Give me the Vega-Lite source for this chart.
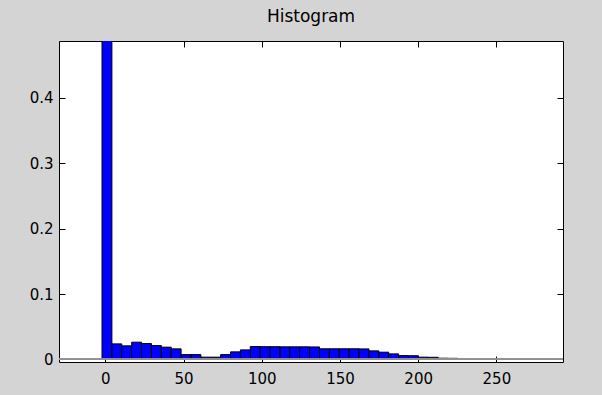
{
  "$schema": "https://vega.github.io/schema/vega-lite/v6.json",
  "width": 504,
  "height": 321,
  "autosize": {"type": "none"},
  "padding": {"left": 59, "top": 41, "right": 39, "bottom": 33},
  "background": "#d4d4d4",
  "title": {
    "text": "Histogram",
    "font": "DejaVu Sans",
    "fontSize": 17,
    "fontWeight": "normal",
    "color": "#000000",
    "anchor": "middle",
    "baseline": "bottom",
    "offset": 18,
    "dy": 48
  },
  "config": {
    "view": {"stroke": "#000000", "strokeWidth": 1, "fill": "#ffffff"},
    "axis": {
      "grid": false,
      "domain": false,
      "labelFont": "DejaVu Sans",
      "labelFontSize": 15,
      "labelColor": "#000000",
      "tickColor": "#000000",
      "tickWidth": 1,
      "tickSize": -6,
      "title": null
    }
  },
  "data": {
    "values": [
      {"x0": -2.10, "x1": 4.22, "p": 0.53},
      {"x0": 4.22, "x1": 10.54, "p": 0.0237},
      {"x0": 10.54, "x1": 16.86, "p": 0.0207},
      {"x0": 16.86, "x1": 23.18, "p": 0.0263},
      {"x0": 23.18, "x1": 29.50, "p": 0.0242},
      {"x0": 29.50, "x1": 35.82, "p": 0.0211},
      {"x0": 35.82, "x1": 42.14, "p": 0.0187},
      {"x0": 42.14, "x1": 48.46, "p": 0.0161},
      {"x0": 48.46, "x1": 54.78, "p": 0.0073},
      {"x0": 54.78, "x1": 61.10, "p": 0.0073},
      {"x0": 61.10, "x1": 67.42, "p": 0.0034},
      {"x0": 67.42, "x1": 73.74, "p": 0.0034},
      {"x0": 73.74, "x1": 80.06, "p": 0.0073},
      {"x0": 80.06, "x1": 86.38, "p": 0.0115},
      {"x0": 86.38, "x1": 92.70, "p": 0.0145},
      {"x0": 92.70, "x1": 99.02, "p": 0.0196},
      {"x0": 99.02, "x1": 105.34, "p": 0.0194},
      {"x0": 105.34, "x1": 111.66, "p": 0.0194},
      {"x0": 111.66, "x1": 117.98, "p": 0.0192},
      {"x0": 117.98, "x1": 124.30, "p": 0.0192},
      {"x0": 124.30, "x1": 130.62, "p": 0.0192},
      {"x0": 130.62, "x1": 136.94, "p": 0.0190},
      {"x0": 136.94, "x1": 143.26, "p": 0.0162},
      {"x0": 143.26, "x1": 149.58, "p": 0.0162},
      {"x0": 149.58, "x1": 155.90, "p": 0.0162},
      {"x0": 155.90, "x1": 162.22, "p": 0.0162},
      {"x0": 162.22, "x1": 168.54, "p": 0.0160},
      {"x0": 168.54, "x1": 174.86, "p": 0.0130},
      {"x0": 174.86, "x1": 181.18, "p": 0.0110},
      {"x0": 181.18, "x1": 187.50, "p": 0.0084},
      {"x0": 187.50, "x1": 193.82, "p": 0.0058},
      {"x0": 193.82, "x1": 200.14, "p": 0.0056},
      {"x0": 200.14, "x1": 206.46, "p": 0.0034},
      {"x0": 206.46, "x1": 212.78, "p": 0.0032},
      {"x0": 212.78, "x1": 219.10, "p": 0.0018},
      {"x0": 219.10, "x1": 225.42, "p": 0.0016}
    ]
  },
  "resolve": {"axis": {"x": "independent", "y": "independent"}},
  "layer": [
    {
      "mark": {"type": "bar", "fill": "#0000ff", "stroke": "#000000", "strokeWidth": 1, "clip": true},
      "encoding": {
        "x": {
          "field": "x0",
          "type": "quantitative",
          "scale": {"domain": [-29.6, 292.6], "nice": false, "zero": false},
          "axis": {"orient": "bottom", "values": [0, 50, 100, 150, 200, 250], "labelPadding": 15}
        },
        "x2": {"field": "x1"},
        "y": {
          "field": "p",
          "type": "quantitative",
          "scale": {"domain": [-0.004, 0.487], "nice": false, "zero": false},
          "axis": {"orient": "left", "values": [0, 0.1, 0.2, 0.3, 0.4], "format": ".1~f", "labelPadding": 12}
        },
        "y2": {"datum": 0}
      }
    },
    {
      "mark": {"type": "bar", "opacity": 0},
      "encoding": {
        "x": {
          "field": "x0",
          "type": "quantitative",
          "axis": {"orient": "top", "values": [0, 50, 100, 150, 200, 250], "labels": false, "minExtent": 0, "maxExtent": 0}
        },
        "x2": {"field": "x1"},
        "y": {
          "field": "p",
          "type": "quantitative",
          "axis": {"orient": "right", "values": [0, 0.1, 0.2, 0.3, 0.4], "labels": false, "minExtent": 0, "maxExtent": 0}
        },
        "y2": {"datum": 0}
      }
    },
    {
      "mark": {"type": "rule", "color": "#909090", "strokeWidth": 1, "clip": true},
      "encoding": {
        "y": {"datum": 0, "type": "quantitative", "axis": null}
      }
    }
  ]
}
